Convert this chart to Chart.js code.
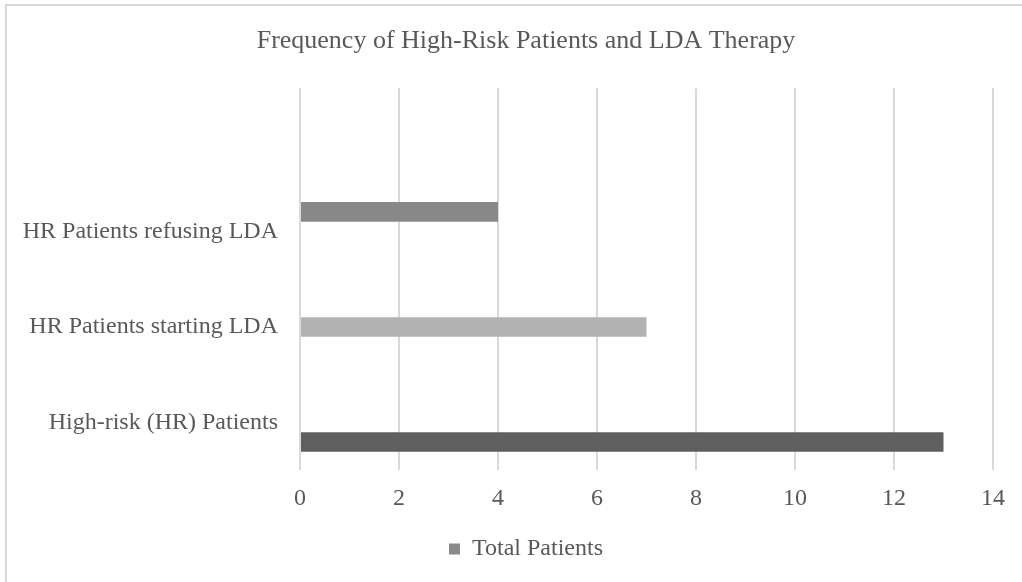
<!DOCTYPE html>
<html>
<head>
<meta charset="utf-8">
<script src="https://cdn.jsdelivr.net/npm/chart.js@4/dist/chart.umd.min.js"></script>
<style>
html,body{margin:0;padding:0;background:#fff;overflow:hidden;}
#wrap{position:relative;width:1022px;height:582px;overflow:hidden;}
</style>
</head>
<body>
<div id="wrap"><canvas id="c" width="1032" height="582"></canvas></div>
<script>
// Categories in Excel order (bottom to top); the last slot is an empty category
const categories = ['High-risk (HR) Patients', 'HR Patients starting LDA', 'HR Patients refusing LDA', ''];
const values = [13, 7, 4];
const barColors = ['#5f5f5f', '#b2b2b2', '#888888'];
const seriesName = 'Total Patients';
const xTicks = [0, 2, 4, 6, 8, 10, 12, 14];

const TEXT = '#595959';
const FONT = "'Liberation Serif', 'Times New Roman', serif";

// one dataset per category so each bar sits in its own slot of the group
const datasets = values.map((v, i) => ({
  label: seriesName,
  data: categories.map((c, j) => (j === i ? v : null)),
  backgroundColor: barColors[i],
  borderWidth: 0
})).reverse();

const framePlugin = {
  id: 'frame',
  beforeDraw(chart) {
    const ctx = chart.ctx;
    ctx.save();
    ctx.fillStyle = '#fff';
    ctx.fillRect(0, 0, chart.width, chart.height);
    ctx.strokeStyle = '#d9d9d9';
    ctx.lineWidth = 2;
    ctx.beginPath();
    ctx.moveTo(6, 582); ctx.lineTo(6, 5); ctx.lineTo(chart.width, 5);
    ctx.stroke();
    ctx.restore();
  }
};

new Chart(document.getElementById('c'), {
  type: 'bar',
  data: { labels: categories, datasets },
  plugins: [framePlugin],
  options: {
    indexAxis: 'y',
    responsive: false,
    animation: false,
    devicePixelRatio: 1,
    categoryPercentage: 0.616,
    barPercentage: 1,
    layout: { padding: { left: 20, right: 0, top: 0, bottom: 11 } },
    scales: {
      x: {
        min: 0, max: 14,
        afterBuildTicks(scale) { scale.ticks = xTicks.map(v => ({ value: v })); },
        grid: { color: '#d9d9d9', lineWidth: 2, drawTicks: false },
        border: { display: false },
        ticks: { color: TEXT, font: { family: FONT, size: 24 }, padding: 14 }
      },
      y: {
        reverse: true,
        afterFit(scale) { scale.width = 280; },
        grid: { display: false, drawTicks: false },
        border: { display: false },
        ticks: { color: TEXT, font: { family: FONT, size: 24 }, padding: 22 }
      },
      spacer: {
        type: 'linear',
        position: 'right',
        afterFit(scale) { scale.width = 39; },
        grid: { display: false, drawTicks: false },
        border: { display: false },
        ticks: { display: false }
      }
    },
    plugins: {
      title: {
        display: true,
        text: 'Frequency of High-Risk Patients and LDA Therapy',
        color: TEXT,
        font: { family: FONT, size: 26, weight: 'normal' },
        padding: { top: 26, bottom: 31 }
      },
      legend: {
        position: 'bottom',
        labels: {
          color: TEXT,
          font: { family: FONT, size: 24 },
          boxWidth: 11, boxHeight: 11,
          padding: 10,
          generateLabels() {
            return [{ text: seriesName, fillStyle: '#8a8a8a', strokeStyle: '#8a8a8a', lineWidth: 0, hidden: false, datasetIndex: 0, fontColor: TEXT }];
          }
        }
      },
      tooltip: { enabled: false }
    }
  }
});
</script>
</body>
</html>
